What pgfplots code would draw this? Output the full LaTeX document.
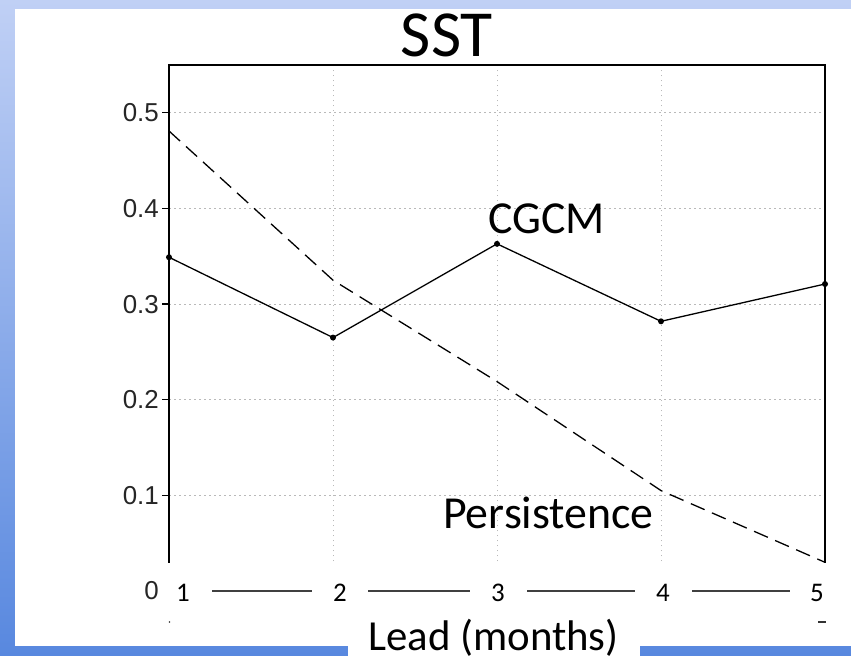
\documentclass[border=0pt]{standalone}
\usepackage{fontspec}
\usepackage{pgfplots}
\pgfplotsset{compat=1.18}
\setmainfont{Carlito}
\newfontfamily\tickfont{Liberation Sans}
\definecolor{bgtop}{RGB}{192,208,245}
\definecolor{bgbot}{RGB}{88,136,223}
\definecolor{gridc}{RGB}{185,185,185}
\begin{document}
\begin{tikzpicture}[x=1bp,y=1bp]
\path[use as bounding box] (0,0) rectangle (851,-656);
\shade[top color=bgtop,bottom color=bgbot] (0,0) rectangle (851,-656);
\fill[white] (15,-9) rectangle (851,-646);
\fill[white] (348,-600) rectangle (640,-656);
\begin{axis}[
  at={(169bp,-591bp)}, anchor=south west,
  scale only axis, width=656bp, height=526bp,
  xmin=1, xmax=5, ymin=0, ymax=0.55,
  xtick={1,2,3,4,5}, xticklabels={},
  ytick={0,0.1,0.2,0.3,0.4,0.5},
  yticklabels={0,0.1,0.2,0.3,0.4,0.5},
  yticklabel style={font=\tickfont\fontsize{26}{26}\selectfont, text=black!85, inner sep=0pt, xshift=-3bp},
  ytick pos=left, tick align=outside,
  major tick length=7bp,
  x tick style={draw=none},
  y tick style={black, line width=1.2bp},
  grid=major,
  major grid style={gridc, line width=0.9bp, dash pattern=on 1.5bp off 3.5bp},
  axis line style={black, line width=1.6bp},
]
\addplot[black, line width=1.3bp, mark=*, mark size=2.3bp] coordinates {
  (1,0.349) (2,0.265) (3,0.363) (4,0.282) (5,0.321)};
\addplot[black, line width=1.3bp, dash pattern=on 15bp off 8bp] coordinates {
  (1,0.481) (2,0.325) (3,0.219) (4,0.105) (5,0.030)};
\end{axis}
% cover of the bottom strip
\fill[white] (160,-563) rectangle (840,-612);
% overlaid x labels
\foreach \xx/\lab in {183/1,340/2,498/3,663/4,817/5}
  \node[anchor=base, font=\fontsize{27}{27}\selectfont, inner sep=0pt] at (\xx,-601) {\lab};
\foreach \a/\b in {212/312,368/470,527/635,692/790}
  \draw[black!75, line width=1.3bp] (\a,-591) -- (\b,-591);
\fill[black!80] (169.5,-622) circle (0.9);
\draw[black!80, line width=1.1bp] (818,-622) -- (826,-622);
% titles and texts
\node[anchor=base, font=\fontsize{66}{66}\selectfont, inner sep=0pt] at (447,-57) {SST};
\node[anchor=base west, font=\fontsize{46}{46}\selectfont, inner sep=0pt] at (488,-233) {CGCM};
\node[anchor=base west, font=\fontsize{46}{46}\selectfont, inner sep=0pt] at (443,-528) {Persistence};
\node[anchor=base west, font=\fontsize{43}{43}\selectfont, inner sep=0pt] at (368,-650) {Lead (months)};
\end{tikzpicture}
\end{document}
